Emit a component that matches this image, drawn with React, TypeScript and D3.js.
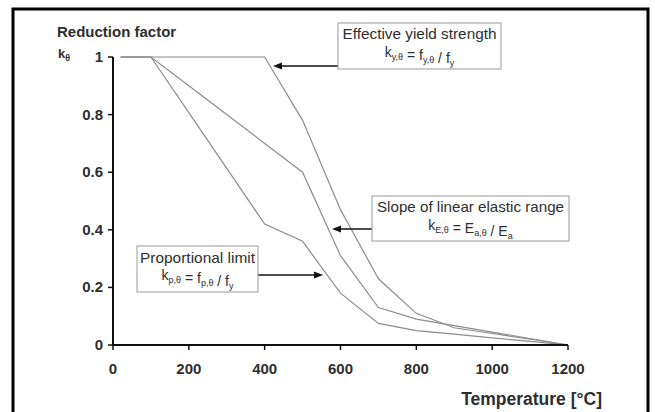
import React from 'react';
import * as d3 from 'd3';

// Eurocode reduction factors for carbon steel at elevated temperature
const temps = [20, 100, 200, 300, 400, 500, 600, 700, 800, 900, 1000, 1100, 1200];
const kYield = [1, 1, 1, 1, 1, 0.78, 0.47, 0.23, 0.11, 0.06, 0.04, 0.02, 0];
const kElastic = [1, 1, 0.9, 0.8, 0.7, 0.6, 0.31, 0.13, 0.09, 0.0675, 0.045, 0.0225, 0];
const kProp = [1, 1, 0.807, 0.613, 0.42, 0.36, 0.18, 0.075, 0.05, 0.0375, 0.025, 0.0125, 0];

const xTicks = [0, 200, 400, 600, 800, 1000, 1200];
const yTicks = [0, 0.2, 0.4, 0.6, 0.8, 1];
const yTickLabels = ['0', '0.2', '0.4', '0.6', '0.8', '1'];

const W = 655, H = 412;
const FONT = 'Liberation Sans, Arial, sans-serif';
const TEXT = '#2e2e2e';

function Sub({ base, sub }: { base: string; sub: string }) {
  return (
    <>
      <tspan>{base}</tspan>
      <tspan fontSize={9} dy={3}>{sub}</tspan>
      <tspan dy={-3}>{''}</tspan>
    </>
  );
}

export default function App() {
  const x = d3.scaleLinear().domain([0, 1200]).range([113, 568]);
  const y = d3.scaleLinear().domain([0, 1]).range([345, 57]);

  const line = d3.line<number>()
    .x((_, i) => x(temps[i]))
    .y(d => y(d));

  const series = [kYield, kElastic, kProp];

  const arrow = (x1: number, x2: number, yy: number) => {
    const dir = x2 > x1 ? 1 : -1;
    return (
      <g>
        <line x1={x1} y1={yy} x2={x2 - dir * 6} y2={yy} stroke="#111" strokeWidth={1.5} />
        <path d={`M${x2},${yy} L${x2 - dir * 9},${yy - 3.5} L${x2 - dir * 9},${yy + 3.5} Z`} fill="#111" />
      </g>
    );
  };

  return (
    <svg width={W} height={H} style={{ position: 'absolute', left: 0, top: 0, background: '#fff' }} fontFamily={FONT}>
      <rect x={0} y={0} width={W} height={H} fill="#fff" />
      {/* frame */}
      <path d={`M13,${H} L13,9 L648,9 L648,${H}`} fill="none" stroke="#000" strokeWidth={3} />

      {/* curves */}
      {series.map((s, i) => (
        <path key={i} d={line(s) || ''} fill="none" stroke="#8c8c8c" strokeWidth={1.2} />
      ))}

      {/* y axis */}
      <line x1={x(0)} y1={y(1)} x2={x(0)} y2={y(0)} stroke="#111" strokeWidth={2} />
      {yTicks.map((t, i) => (
        <g key={t}>
          <line x1={x(0) - 5} y1={y(t)} x2={x(0)} y2={y(t)} stroke="#111" strokeWidth={1.5} />
          <text x={103} y={y(t) + 5} textAnchor="end" fontSize={15} fontWeight="bold" fill={TEXT}>{yTickLabels[i]}</text>
        </g>
      ))}

      {/* x axis */}
      <line x1={x(0)} y1={y(0)} x2={x(1200)} y2={y(0)} stroke="#111" strokeWidth={2} />
      {xTicks.map(t => (
        <g key={t}>
          <line x1={x(t)} y1={y(0)} x2={x(t)} y2={y(0) + 5} stroke="#111" strokeWidth={1.5} />
          <text x={x(t)} y={374} textAnchor="middle" fontSize={15} fontWeight="bold" fill={TEXT}>{t}</text>
        </g>
      ))}

      <text x={57} y={37} fontSize={15} fontWeight="bold" fill={TEXT}>Reduction factor</text>
      <text x={58} y={58} fontSize={13} fontWeight="bold" fill={TEXT}>
        <Sub base="k" sub="θ" />
      </text>
      <text x={602} y={405} textAnchor="end" fontSize={17.5} fontWeight="bold" fill={TEXT}>Temperature [°C]</text>

      {/* annotation: yield strength */}
      {arrow(338, 273, 66)}
      <rect x={338} y={23} width={163} height={46} fill="#fff" stroke="#999" />
      <text x={419.5} y={39} textAnchor="middle" fontSize={15} textLength={154} lengthAdjust="spacingAndGlyphs" fill={TEXT}>Effective yield strength</text>
      <text x={419.5} y={57} textAnchor="middle" fontSize={14} fill={TEXT}>
        <Sub base="k" sub="y,θ" /><tspan> = </tspan><Sub base="f" sub="y,θ" /><tspan> / </tspan><Sub base="f" sub="y" />
      </text>

      {/* annotation: elastic slope */}
      {arrow(372, 332, 229)}
      <rect x={372} y={196} width={197} height={45} fill="#fff" stroke="#999" />
      <text x={470.5} y={212} textAnchor="middle" fontSize={15} textLength={187} lengthAdjust="spacingAndGlyphs" fill={TEXT}>Slope of linear elastic range</text>
      <text x={470.5} y={230} textAnchor="middle" fontSize={14} fill={TEXT}>
        <Sub base="k" sub="E,θ" /><tspan> = </tspan><Sub base="E" sub="a,θ" /><tspan> / </tspan><Sub base="E" sub="a" />
      </text>

      {/* annotation: proportional limit */}
      {arrow(258, 323, 275)}
      <rect x={137} y={246} width={121} height={46} fill="#fff" stroke="#999" />
      <text x={197.5} y={263} textAnchor="middle" fontSize={15} textLength={115} lengthAdjust="spacingAndGlyphs" fill={TEXT}>Proportional limit</text>
      <text x={197.5} y={280} textAnchor="middle" fontSize={14} fill={TEXT}>
        <Sub base="k" sub="p,θ" /><tspan> = </tspan><Sub base="f" sub="p,θ" /><tspan> / </tspan><Sub base="f" sub="y" />
      </text>
    </svg>
  );
}
